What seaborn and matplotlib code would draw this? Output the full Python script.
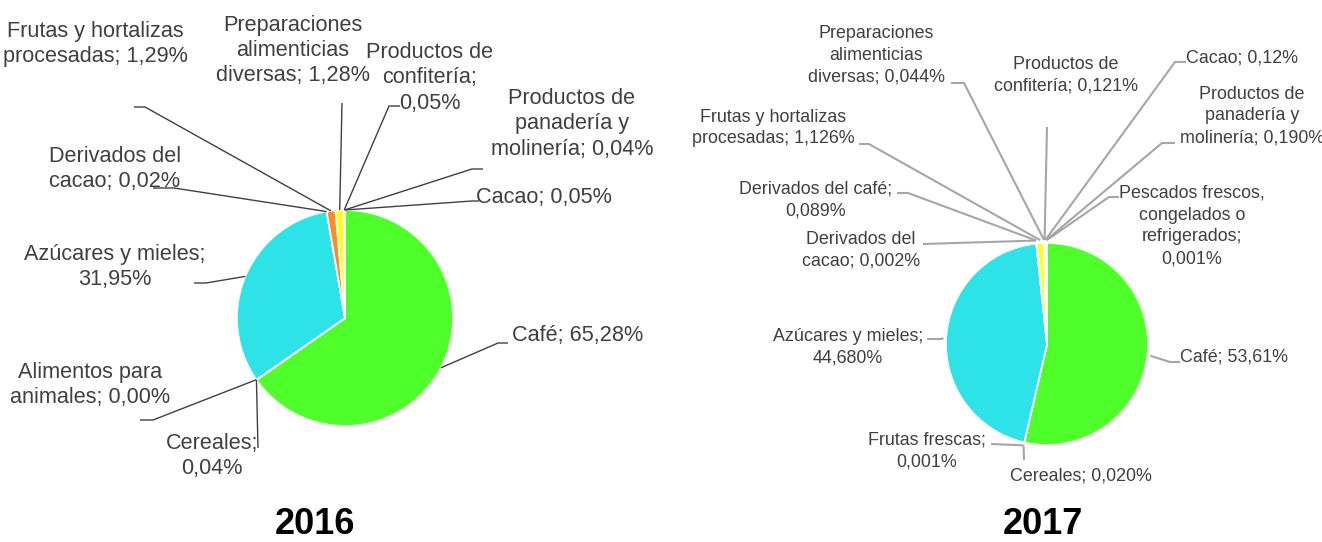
import numpy as np
import matplotlib
matplotlib.use("Agg")
import matplotlib.pyplot as plt
import seaborn as sns

# ---------------- data ----------------
years = ["2016", "2017"]

cats_2016 = ["Café", "Cereales", "Alimentos para animales", "Azúcares y mieles",
             "Derivados del cacao", "Frutas y hortalizas procesadas",
             "Preparaciones alimenticias diversas", "Productos de confitería",
             "Productos de panadería y molinería", "Cacao"]
vals_2016 = [65.28, 0.04, 0.00, 31.95, 0.02, 1.29, 1.28, 0.05, 0.04, 0.05]
labels_2016 = ["Café; 65,28%", "Cereales;\n0,04%", "Alimentos para\nanimales; 0,00%",
               "Azúcares y mieles;\n31,95%", "Derivados del\ncacao; 0,02%",
               "Frutas y hortalizas\nprocesadas; 1,29%",
               "Preparaciones\nalimenticias\ndiversas; 1,28%",
               "Productos de\nconfitería;\n0,05%",
               "Productos de\npanadería y\nmolinería; 0,04%", "Cacao; 0,05%"]

cats_2017 = ["Café", "Cereales", "Frutas frescas", "Azúcares y mieles",
             "Derivados del cacao", "Derivados del café", "Frutas y hortalizas procesadas",
             "Preparaciones alimenticias diversas", "Productos de confitería", "Cacao",
             "Productos de panadería y molinería", "Pescados frescos, congelados o refrigerados"]
vals_2017 = [53.61, 0.020, 0.001, 44.680, 0.002, 0.089, 1.126, 0.044, 0.121, 0.12, 0.190, 0.001]
labels_2017 = ["Café; 53,61%", "Cereales; 0,020%", "Frutas frescas;\n0,001%",
               "Azúcares y mieles;\n44,680%", "Derivados del\ncacao; 0,002%",
               "Derivados del café;\n0,089%", "Frutas y hortalizas\nprocesadas; 1,126%",
               "Preparaciones\nalimenticias\ndiversas; 0,044%",
               "Productos de\nconfitería; 0,121%", "Cacao; 0,12%",
               "Productos de\npanadería y\nmolinería; 0,190%",
               "Pescados frescos,\ncongelados o\nrefrigerados;\n0,001%"]

# ---------------- styling / layout ----------------
GREEN, CYAN, ORANGE, YELLOW, WHITE = "#4EFF2A", "#2DE3E8", "#FF8C1F", "#FFFF1A", "#FFFFFF"
colors_2016 = {"Café": GREEN, "Azúcares y mieles": CYAN,
               "Frutas y hortalizas procesadas": ORANGE,
               "Preparaciones alimenticias diversas": YELLOW}
colors_2017 = {"Café": GREEN, "Azúcares y mieles": CYAN,
               "Frutas y hortalizas procesadas": YELLOW}

W, H = 1322, 542
# pie centre / radius in pixels
pie_geom = {"2016": (345, 318, 108), "2017": (1047, 344, 101)}

# label layout: (text x, text y, ha, leader points after the wedge point)
layout_2016 = [
    (512, 335, "left", [(498, 343), (508, 343)]),
    (212, 456, "center", [(258, 448)]),
    (90, 385, "center", [(153, 420), (140, 420)]),
    (115, 267, "center", [(206, 283), (194, 283)]),
    (115, 169, "center", [(174, 188), (153, 188)]),
    (95, 44, "center", [(145, 107), (134, 107)]),
    (293, 50, "center", [(342, 103)]),
    (430, 78, "center", [(389, 106), (400, 106)]),
    (572, 124, "center", [(472, 169), (483, 169)]),
    (476, 197, "left", [(472, 201), (479, 201)]),
]
layout_2017 = [
    (1180, 357, "left", [(1170, 362), (1180, 362)]),
    (1081, 476, "center", [(1024, 460)]),
    (927, 451, "center", [(991, 444)]),
    (848, 347, "center", [(942, 339), (927, 339)]),
    (861, 250, "center", [(923, 244)]),
    (816, 200, "center", [(908, 193), (897, 193)]),
    (773, 128, "center", [(869, 144), (859, 144)]),
    (876, 55, "center", [(964, 83), (951, 83)]),
    (1066, 75, "center", [(1047, 127)]),
    (1186, 58, "left", [(1175, 62), (1186, 62)]),
    (1252, 116, "center", [(1162, 143), (1175, 143)]),
    (1192, 226, "center", [(1109, 197), (1119, 197)]),
]

sns.set_theme(style="white")
plt.rcParams["font.family"] = ["Liberation Sans", "DejaVu Sans"]

fig = plt.figure(figsize=(W / 100, H / 100), dpi=100)
overlay = fig.add_axes([0, 0, 1, 1], zorder=3)
overlay.set_xlim(0, W)
overlay.set_ylim(H, 0)
overlay.axis("off")
overlay.patch.set_alpha(0)

specs = [
    ("2016", cats_2016, vals_2016, labels_2016, colors_2016, layout_2016,
     dict(fs=15.6, ls=1.25, lc="#404040", lw=1.0, r_edge=1.0), (315, 525)),
    ("2017", cats_2017, vals_2017, labels_2017, colors_2017, layout_2017,
     dict(fs=12.9, ls=1.38, lc="#A6A6A6", lw=1.5, r_edge=1.03), (1043, 525)),
]

for year, cats, vals, labels, cmap, lay, st, tpos in specs:
    cx, cy, r = pie_geom[year]
    ax = fig.add_axes([(cx - r) / W, 1 - (cy + r) / H, 2 * r / W, 2 * r / H], zorder=2)
    cols = [cmap.get(c, WHITE) for c in cats]
    wedges, _ = ax.pie(vals, colors=cols, startangle=90, counterclock=False, radius=1,
                       wedgeprops=dict(edgecolor="white", linewidth=1.2))
    ax.set_aspect("auto")
    ax.set_xlim(-1, 1)
    ax.set_ylim(-1, 1)
    ax.axis("off")
    inv = overlay.transData.inverted()
    for w, lab, (tx, ty, ha, pts) in zip(wedges, labels, lay):
        mid = np.deg2rad((w.theta1 + w.theta2) / 2)
        p = ax.transData.transform((st["r_edge"] * np.cos(mid), st["r_edge"] * np.sin(mid)))
        p = inv.transform(p)
        xs = [p[0]] + [q[0] for q in pts]
        ys = [p[1]] + [q[1] for q in pts]
        overlay.plot(xs, ys, color=st["lc"], lw=st["lw"], solid_capstyle="butt")
        overlay.text(tx, ty, lab, ha=ha, va="center", multialignment="center",
                     fontsize=st["fs"], color="#404040", linespacing=st["ls"])
    overlay.text(tpos[0], tpos[1], year, ha="center", va="center",
                 fontsize=26, fontweight="bold", color="black")

fig.savefig("out.png", dpi=100)
